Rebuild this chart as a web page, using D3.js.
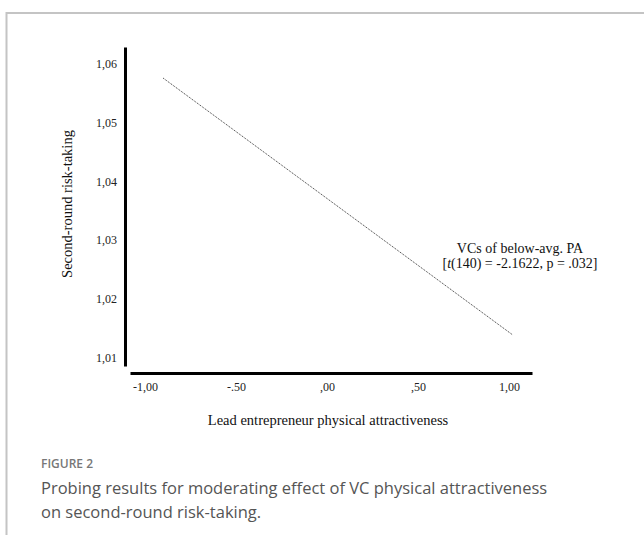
<!DOCTYPE html>
<html>
<head>
<meta charset="utf-8">
<script src="https://cdn.jsdelivr.net/npm/d3@7"></script>
<style>
  body { margin: 0; background: #fff; }
  svg { display: block; }
</style>
</head>
<body>
<svg id="chart" width="644" height="535"></svg>
<script>
// values
var xTicks = [-1, -0.5, 0, 0.5, 1];
var xTickLabels = ["-1,00", "-.50", ",00", ",50", "1,00"];
var yTicks = [1.01, 1.02, 1.03, 1.04, 1.05, 1.06];
var yTickLabels = ["1,01", "1,02", "1,03", "1,04", "1,05", "1,06"];
var lineX = [-0.90, 1.02];
var lineY = [1.0576, 1.0138];

var svg = d3.select("#chart");
var serif = "'Liberation Serif', 'Times New Roman', serif";

// frame (top + left rule)
svg.append("path")
  .attr("d", "M6.5,535 V13 H644")
  .attr("fill", "none")
  .attr("stroke", "#c4c4c4")
  .attr("stroke-width", 2);

var x = d3.scaleLinear().domain([-1.082, 1.126]).range([130, 532]);
var y = d3.scaleLinear().domain([1.0085, 1.0629]).range([366, 47]);

var gx = svg.append("g")
  .attr("transform", "translate(0,373)")
  .call(d3.axisBottom(x)
    .tickValues(xTicks)
    .tickSize(0)
    .tickPadding(9)
    .tickFormat(function(d, i) { return xTickLabels[i]; }));

var gy = svg.append("g")
  .attr("transform", "translate(125,0)")
  .call(d3.axisLeft(y)
    .tickValues(yTicks)
    .tickSize(0)
    .tickPadding(8)
    .tickFormat(function(d, i) { return yTickLabels[i]; }));

[gx, gy].forEach(function(g) {
  g.select(".domain").attr("stroke", "#000").attr("stroke-width", 3);
  g.selectAll("text")
    .attr("fill", "#222")
    .style("font-family", serif)
    .style("font-size", "12px");
});

// regression line
var data = lineX.map(function(v, i) { return {x: v, y: lineY[i]}; });
var line = d3.line()
  .x(function(d) { return x(d.x); })
  .y(function(d) { return y(d.y); });

svg.append("path")
  .datum(data)
  .attr("fill", "none")
  .attr("stroke", "#333")
  .attr("stroke-width", 1)
  .attr("stroke-dasharray", "1,1")
  .attr("d", line);

// annotation
var ann = svg.append("text")
  .attr("text-anchor", "middle")
  .style("font-family", serif)
  .style("font-size", "14px")
  .attr("fill", "#111");
ann.append("tspan").attr("x", 520).attr("y", 253).text("VCs of below-avg. PA");
var t2 = ann.append("tspan").attr("x", 520).attr("y", 268);
t2.append("tspan").text("[");
t2.append("tspan").style("font-style", "italic").text("t");
t2.append("tspan").text("(140) = -2.1622, p = .032]");

// axis titles
svg.append("text")
  .attr("transform", "translate(72,204) rotate(-90)")
  .attr("text-anchor", "middle")
  .style("font-family", serif)
  .style("font-size", "14.5px")
  .attr("fill", "#111")
  .text("Second-round risk-taking");

svg.append("text")
  .attr("x", 328)
  .attr("y", 425)
  .attr("text-anchor", "middle")
  .style("font-family", serif)
  .style("font-size", "14.5px")
  .attr("fill", "#111")
  .text("Lead entrepreneur physical attractiveness");

// caption
var sans = "'Open Sans', 'Noto Sans', sans-serif";
svg.append("text")
  .attr("x", 41)
  .attr("y", 468)
  .style("font-family", sans)
  .style("font-size", "12px")
  .style("font-weight", 600)
  .attr("fill", "#777")
  .text("FIGURE 2");

svg.append("text")
  .attr("x", 41)
  .attr("y", 494)
  .style("font-family", sans)
  .style("font-size", "16.5px")
  .attr("fill", "#555")
  .text("Probing results for moderating effect of VC physical attractiveness");

svg.append("text")
  .attr("x", 41)
  .attr("y", 518)
  .style("font-family", sans)
  .style("font-size", "16.5px")
  .attr("fill", "#555")
  .text("on second-round risk-taking.");
</script>
</body>
</html>
